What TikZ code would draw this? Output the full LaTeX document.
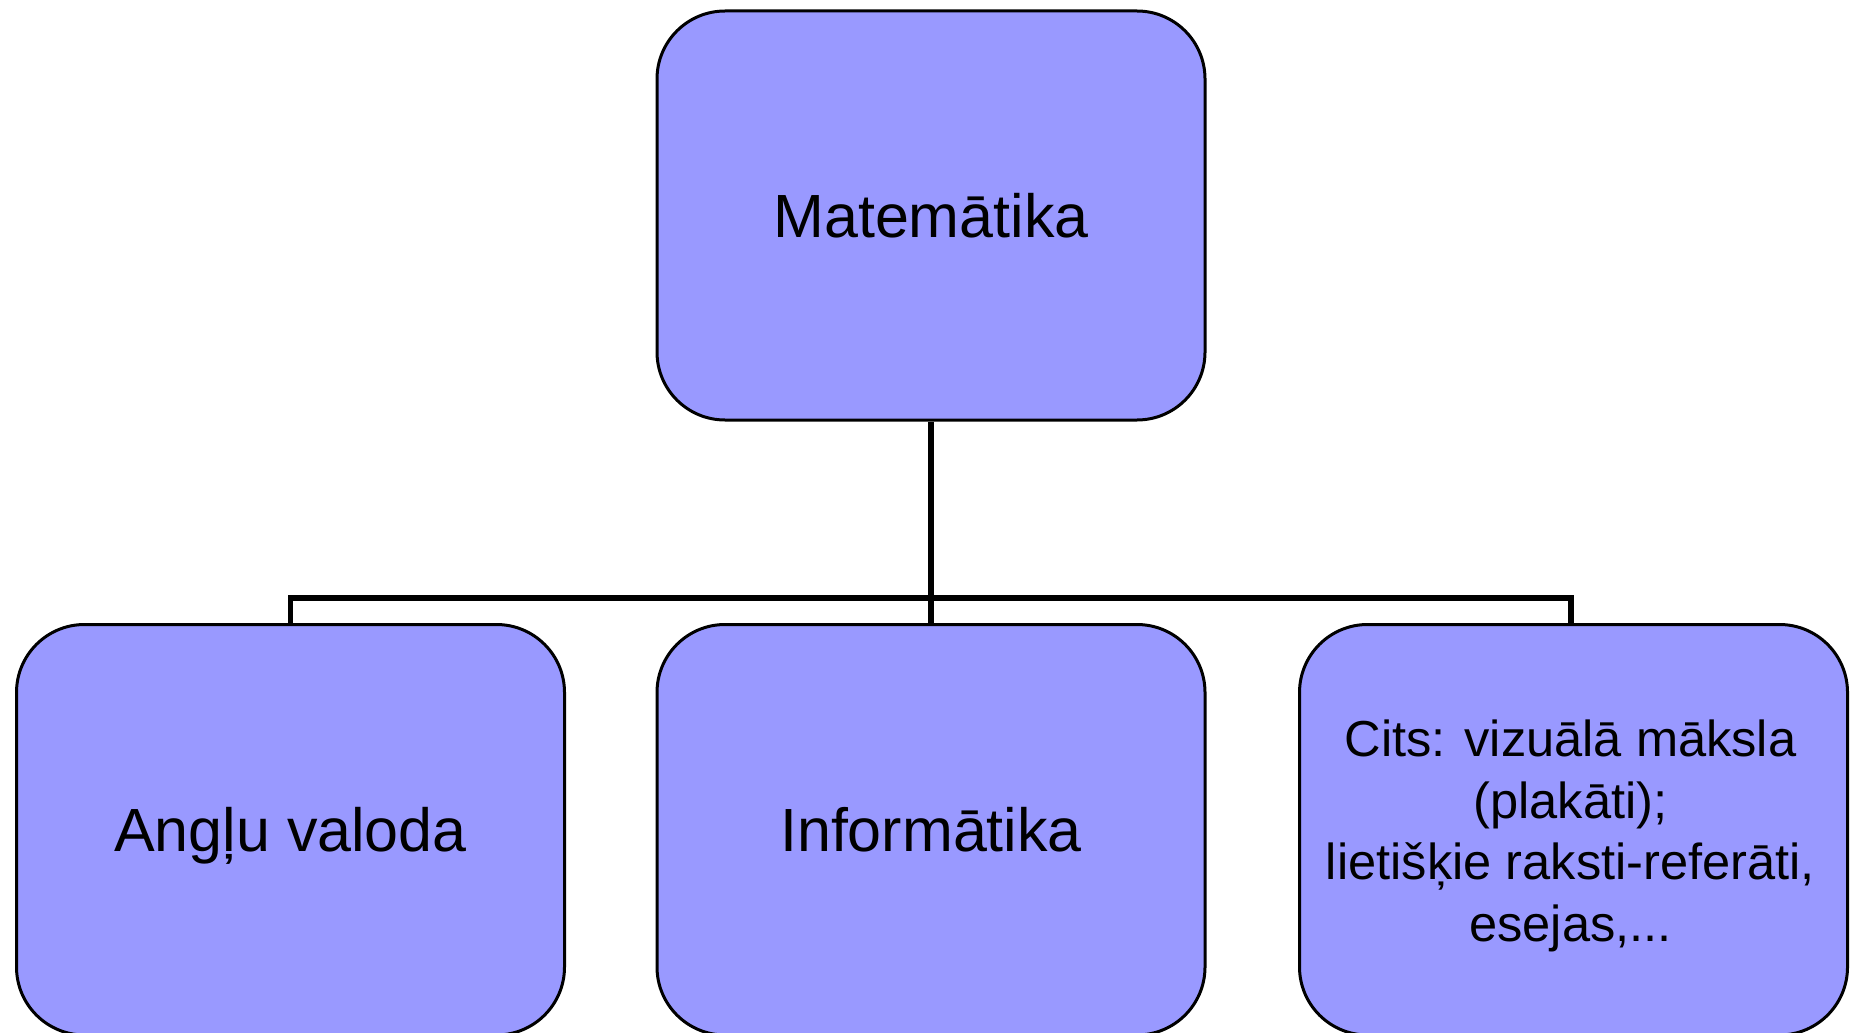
\documentclass[tikz,border=0pt]{standalone}
\usepackage{fontspec}
\setmainfont{Liberation Sans}
\definecolor{boxfill}{RGB}{153,153,255}
\begin{document}
\begin{tikzpicture}[x=0.5pt,y=-0.5pt,
  box/.style={draw=black, line width=1.5pt, fill=boxfill, rounded corners=34pt,
    minimum width=274pt, inner sep=0pt, align=center},
  bigtext/.style={font=\fontsize{30.5pt}{36pt}\selectfont, text height=21.84pt, text depth=0pt},
  topbox/.style={box, minimum height=204.5pt, bigtext},
  lowbox/.style={box, minimum height=205.25pt, bigtext},
  smalltext/.style={font=\fontsize{25.3pt}{30.75pt}\selectfont, align=center, inner sep=0pt},
  conn/.style={draw=black, line width=2.75pt}]
\useasboundingbox (0,0) rectangle (1855,1032);
\node[topbox] (top) at (931,215.5) {Matemātika};
\node[lowbox] (left) at (290.5,829.75) {Angļu valoda};
\node[lowbox] (mid) at (931,829.75) {Informātika};
\node[lowbox] (right) at (1573.5,829.75) {};
\node[smalltext] (rtext) at ([xshift=-1.5pt,yshift=-3pt]right.center) {Cits: vizuālā māksla\\(plakāti);\\lietišķie raksti-referāti,\\esejas,...};
\coordinate (bar) at (931,598);
\draw[conn] (top.south) -- (mid.north);
\draw[conn] (left.north) |- (bar) -| ([xshift=-1.25pt]right.north);
\end{tikzpicture}
\end{document}
